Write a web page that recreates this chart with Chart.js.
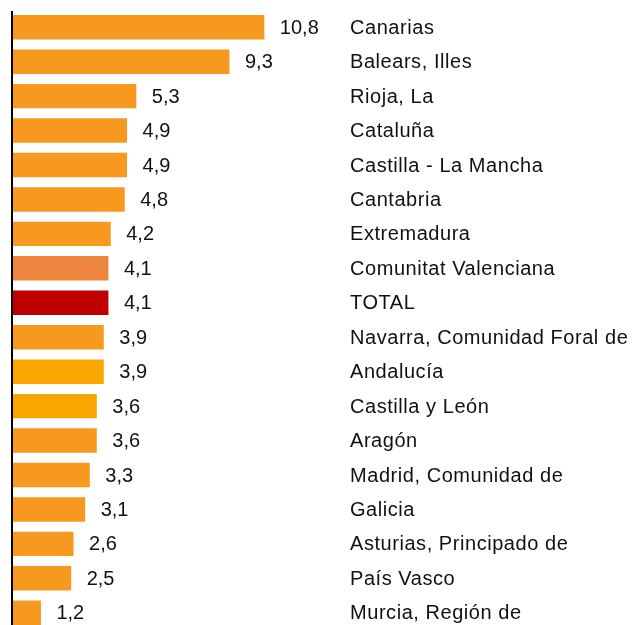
<!DOCTYPE html>
<html>
<head>
<meta charset="utf-8">
<script src="https://cdn.jsdelivr.net/npm/chart.js@4/dist/chart.umd.min.js"></script>
<style>
  html, body { margin: 0; padding: 0; background: #fff; overflow: hidden; }
  #wrap { width: 634px; height: 630px; position: relative; }
</style>
</head>
<body>
<div id="wrap"><canvas id="c"></canvas></div>
<script>
const categories = [
  "Canarias", "Balears, Illes", "Rioja, La", "Cataluña", "Castilla - La Mancha",
  "Cantabria", "Extremadura", "Comunitat Valenciana", "TOTAL",
  "Navarra, Comunidad Foral de", "Andalucía", "Castilla y León", "Aragón",
  "Madrid, Comunidad de", "Galicia", "Asturias, Principado de", "País Vasco",
  "Murcia, Región de"
];
const values = [10.8, 9.3, 5.3, 4.9, 4.9, 4.8, 4.2, 4.1, 4.1, 3.9, 3.9, 3.6, 3.6, 3.3, 3.1, 2.6, 2.5, 1.2];
const barColors = [
  "#F7991F", "#F7991F", "#F7991F", "#F7991F", "#F7991F", "#F7991F", "#F7991F",
  "#EE853D", "#C00000", "#F7991F", "#FAA500", "#FAA500", "#F7991F", "#F7991F",
  "#F7991F", "#F7991F", "#F7991F", "#F7991F"
];

const FONT = '20px "Liberation Sans", Arial, sans-serif';

const labelPlugin = {
  id: 'labels',
  afterDatasetsDraw(chart) {
    const ctx = chart.ctx;
    const xs = chart.scales.x, ys = chart.scales.y;
    const area = chart.chartArea;
    ctx.save();
    // left axis line
    ctx.fillStyle = '#000';
    ctx.fillRect(xs.getPixelForValue(0) - 2, area.top + 1, 2, area.bottom - area.top);
    ctx.font = FONT;
    ctx.textBaseline = 'middle';
    ctx.textAlign = 'left';
    ctx.fillStyle = '#111';
    values.forEach((v, i) => {
      const y = ys.getPixelForValue(i) + 1;
      const x = xs.getPixelForValue(v);
      ctx.letterSpacing = '0px';
      ctx.fillText(v.toFixed(1).replace('.', ','), x + 15.5, y);
      ctx.letterSpacing = '0.55px';
      ctx.fillText(categories[i], 350, y);
    });
    ctx.restore();
  }
};

new Chart(document.getElementById('c'), {
  type: 'bar',
  data: {
    labels: categories,
    datasets: [{
      data: values,
      backgroundColor: barColors,
      borderWidth: 0,
      barPercentage: 0.71,
      categoryPercentage: 1.0
    }]
  },
  options: {
    indexAxis: 'y',
    responsive: true,
    maintainAspectRatio: false,
    animation: false,
    layout: { padding: { left: 13, right: 294, top: 10, bottom: 0 } },
    plugins: { legend: { display: false }, tooltip: { enabled: false } },
    scales: {
      x: { display: false, min: 0, max: 14.05 },
      y: { display: false, offset: true }
    }
  },
  plugins: [labelPlugin]
});
</script>
</body>
</html>
